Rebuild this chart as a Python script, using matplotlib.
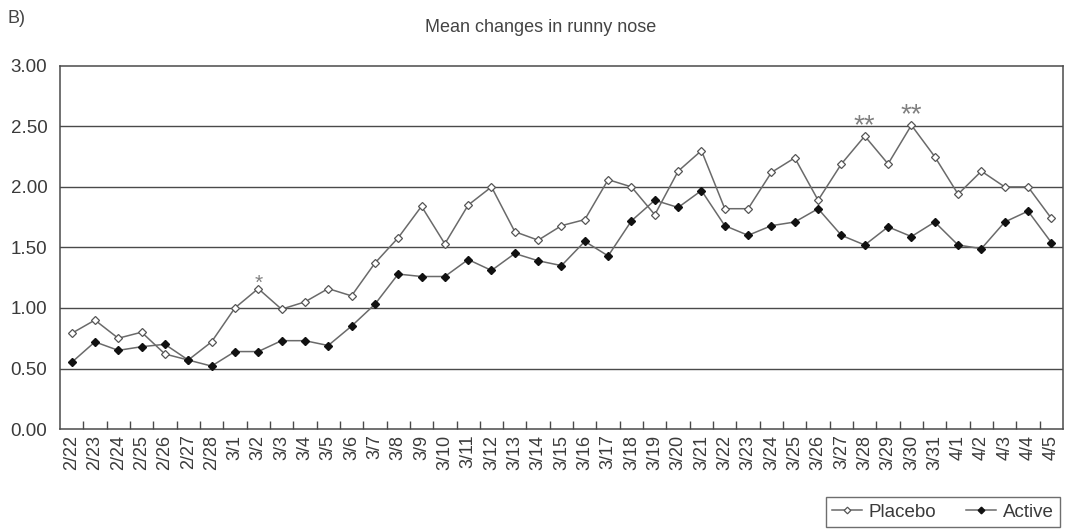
from __future__ import annotations

import matplotlib

matplotlib.use("Agg")

import matplotlib.pyplot as plt
import numpy as np
from matplotlib.ticker import FixedLocator

# Daily means, 2/22 through 4/5.
dates = (
    [f"2/{d}" for d in range(22, 29)]
    + [f"3/{d}" for d in range(1, 32)]
    + [f"4/{d}" for d in range(1, 6)]
)

placebo = [
    0.79, 0.90, 0.75, 0.80, 0.62, 0.57, 0.72,
    1.00, 1.16, 0.99, 1.05, 1.16, 1.10, 1.37, 1.58, 1.84, 1.53, 1.85, 2.00,
    1.63, 1.56, 1.68, 1.73, 2.06, 2.00, 1.77, 2.13, 2.30, 1.82, 1.82, 2.12,
    2.24, 1.89, 2.19, 2.42, 2.19, 2.51, 2.25,
    1.94, 2.13, 2.00, 2.00, 1.74,
]

active = [
    0.55, 0.72, 0.65, 0.68, 0.70, 0.57, 0.52,
    0.64, 0.64, 0.73, 0.73, 0.69, 0.85, 1.03, 1.28, 1.26, 1.26, 1.40, 1.31,
    1.45, 1.39, 1.35, 1.55, 1.43, 1.72, 1.89, 1.83, 1.97, 1.68, 1.60, 1.68,
    1.71, 1.82, 1.60, 1.52, 1.67, 1.59, 1.71,
    1.52, 1.49, 1.71, 1.80, 1.54,
]

# Significance marks placed above the placebo points.
sig_dates = ["3/2", "3/28", "3/30"]
sig_marks = ["*", "**", "**"]

y_ticks = [0.0, 0.5, 1.0, 1.5, 2.0, 2.5, 3.0]


def main() -> None:
    plt.rcParams["font.family"] = ["Liberation Sans", "DejaVu Sans"]

    fig = plt.figure(figsize=(10.70, 5.31), dpi=100)
    ax = fig.add_axes([0.056, 0.192, 0.9375, 0.684])

    x = np.arange(len(dates))
    line_color = "#6a6a6a"
    grid_color = "#4a4a4a"
    text_color = "#3a3a3a"

    for y in y_ticks[1:-1]:
        ax.axhline(y, color=grid_color, linewidth=1.0, zorder=1)

    ax.plot(
        x, placebo, color=line_color, linewidth=1.1, marker="D", markersize=4.2,
        markerfacecolor="white", markeredgecolor="#555555", markeredgewidth=0.9,
        label="Placebo", zorder=3,
    )
    ax.plot(
        x, active, color=line_color, linewidth=1.1, marker="D", markersize=4.2,
        markerfacecolor="#111111", markeredgecolor="#111111",
        label="Active", zorder=3,
    )

    # Single star is smaller and sits closer to its point than the double ones.
    for d, mark in zip(sig_dates, sig_marks):
        i = dates.index(d)
        size, lift = (15, 4) if mark == "*" else (20, 7)
        ax.annotate(
            mark, (x[i], placebo[i]), xytext=(0, lift), textcoords="offset points",
            ha="center", va="center", fontsize=size, color="#808080",
        )

    ax.set_xlim(-0.5, len(dates) - 0.5)
    ax.set_ylim(0, 3.0)
    ax.set_yticks(y_ticks)
    ax.set_yticklabels([f"{v:.2f}" for v in y_ticks])
    ax.tick_params(axis="y", length=0, pad=9, labelsize=13.5, labelcolor=text_color)

    ax.set_xticks(x)
    ax.set_xticklabels(dates, rotation=90, va="top", ha="center")
    ax.tick_params(axis="x", which="major", length=0, pad=4, labelsize=13, labelcolor=text_color)
    ax.xaxis.set_minor_locator(FixedLocator(x[:-1] + 0.5))
    ax.tick_params(axis="x", which="minor", direction="in", length=6, width=1.0, color=grid_color)

    for spine in ax.spines.values():
        spine.set_color(grid_color)
        spine.set_linewidth(1.1)

    fig.text(0.505, 0.948, "Mean changes in runny nose", ha="center", va="center",
             fontsize=13, color="#444444")
    fig.text(0.007, 0.965, "B)", ha="left", va="center", fontsize=13, color="#444444")

    leg = fig.legend(
        loc="upper right", bbox_to_anchor=(0.991, 0.064), ncol=2, frameon=True,
        fancybox=False, fontsize=13.5, handlelength=1.6, handletextpad=0.35,
        columnspacing=1.6, borderpad=0.35, borderaxespad=0.0, labelcolor=text_color,
        markerscale=0.8,
    )
    leg.get_frame().set_edgecolor(grid_color)
    leg.get_frame().set_linewidth(1.0)

    fig.savefig("out.png", dpi=100)
    plt.close(fig)


if __name__ == "__main__":
    main()
